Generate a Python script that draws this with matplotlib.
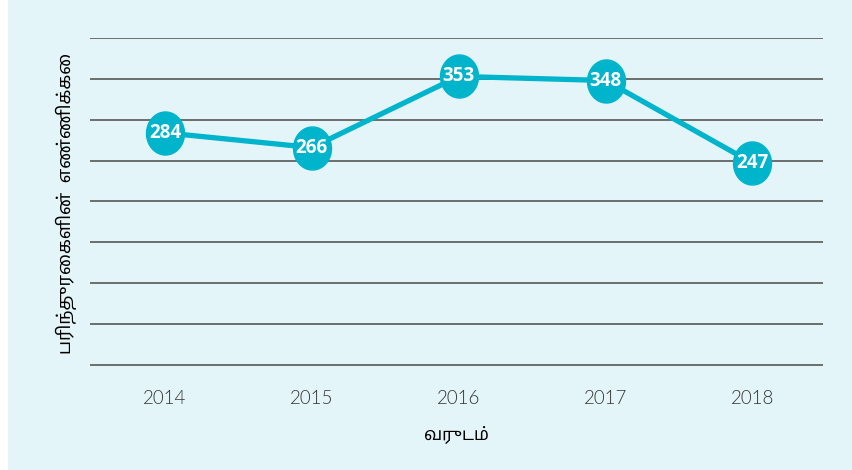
import numpy as np
import matplotlib
matplotlib.use("Agg")
import matplotlib.pyplot as plt
from matplotlib.path import Path
from matplotlib.patches import Rectangle

years = ["2014", "2015", "2016", "2017", "2018"]
counts = [284, 266, 353, 348, 247]
y_label = "பரிந்துரைகளின்  எண்ணிக்கை"
x_label = "வருடம்"

tamil_fonts = ["Noto Sans Tamil", "DejaVu Sans"]
bg = "#e4f5f9"
line_col = "#00b4cc"

fig = plt.figure(figsize=(8.53, 4.70), dpi=100)
fig.patch.set_facecolor("white")
# light panel, leaves thin white strip on the left
fig.patches.append(Rectangle((8 / 853, 0), 1, 1, transform=fig.transFigure,
                             facecolor=bg, edgecolor="none", zorder=-10))
# 0 sits at px 365, 400 at px 38, axis starts a bit under 0
ax_h = 327 * 405 / 400
ax = fig.add_axes([90 / 853, 1 - (38 + ax_h) / 470, (823 - 90) / 853, ax_h / 470])
ax.set_facecolor("none")

x = np.arange(len(years))
# slightly tall ellipse for the markers
theta = np.linspace(0, 2 * np.pi, 60)
ell = Path(np.column_stack([np.cos(theta), 1.13 * np.sin(theta)]))

ax.plot(x, counts, color=line_col, lw=3.8, zorder=3, solid_capstyle="round")
ax.plot(x, counts, ls="none", marker=ell, ms=32, mfc=line_col, mec="none", zorder=4)
for xi, v in zip(x, counts):
    ax.text(xi, v, str(v), ha="center", va="center", color="white",
            fontsize=13.5, fontweight="bold", family="Open Sans", zorder=5)

ax.set_ylim(-5, 400)
ax.set_xlim(-0.51, 4.48)
ax.set_yticks(np.arange(0, 401, 50))
ax.set_yticklabels([])
ax.set_xticks(x)
ax.set_xticklabels(years, family="Lato", fontweight=300, fontsize=13.5, color="#333333")
ax.tick_params(axis="both", length=0, pad=15)
ax.grid(axis="y", color="#4a4a4a", lw=1.1)
for s in ax.spines.values():
    s.set_visible(False)

ax.set_ylabel(y_label, fontsize=13, family=tamil_fonts, color="black")
ax.yaxis.set_label_coords(-0.018, 0.5)
ax.set_xlabel(x_label, fontsize=12.5, labelpad=14, family=tamil_fonts, color="black")

fig.savefig("out.png", dpi=100)
